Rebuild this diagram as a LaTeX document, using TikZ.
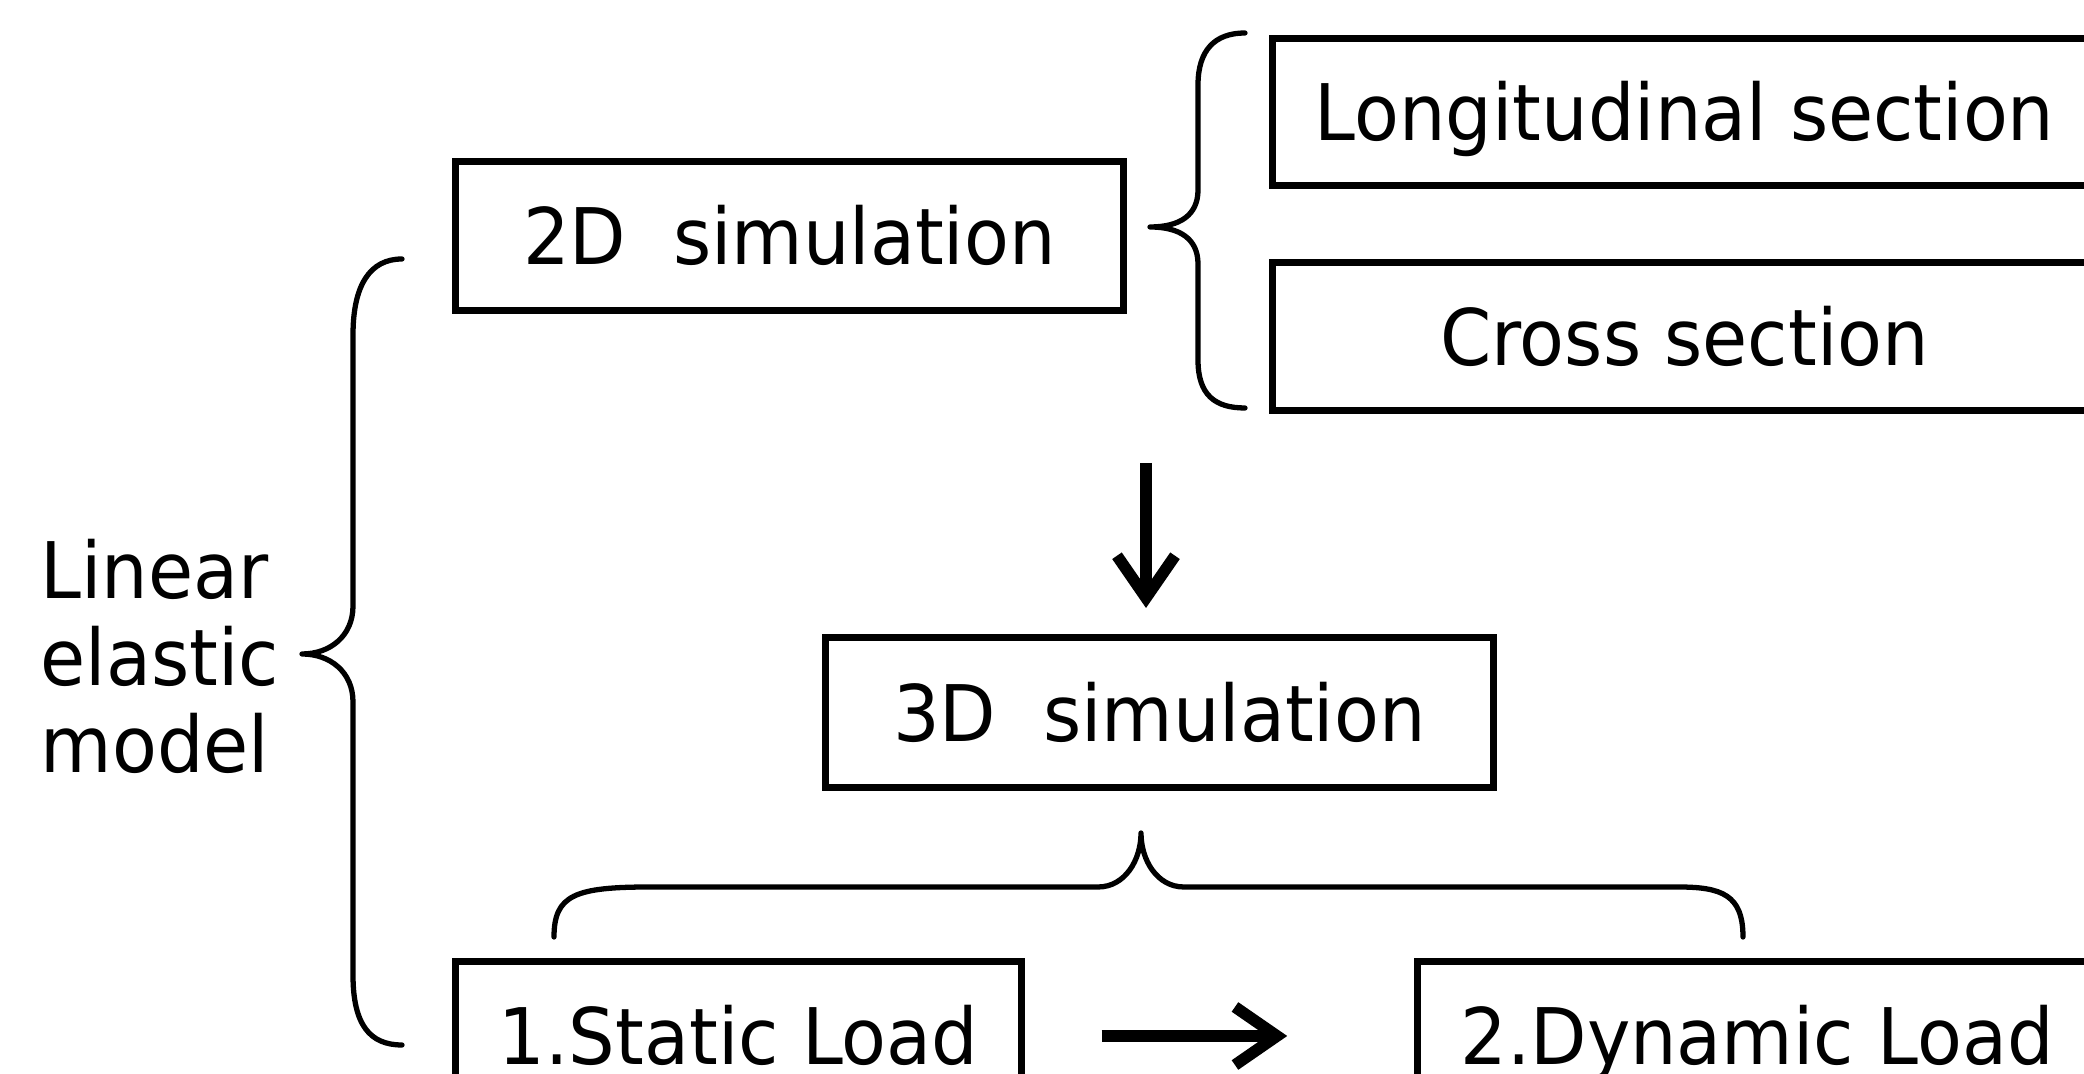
\documentclass[tikz,border=0pt]{standalone}
\usepackage{fontspec}
\setmainfont{DejaVu Sans}[FakeStretch=0.94]
\usetikzlibrary{arrows.meta,calc}
\begin{document}
\begin{tikzpicture}[x=0.01cm,y=-0.01cm,
  txt/.style={font=\fontsize{22.2pt}{24.7pt}\selectfont},
  box/.style={txt,draw,line width=2pt,inner sep=0pt,text height=0.57cm,text depth=0pt},
  brace/.style={line width=1.5pt,line cap=round,line join=round},
  arr/.style={line width=3.3pt,-{Straight Barb[length=0.42cm,width=0.58cm]}}]
\useasboundingbox (0,0) rectangle (2084,1074);
% boxes
\node[box,minimum width=6.67cm,minimum height=1.48cm] (twoD) at (789.5,236) {2D~~simulation};
\node[box,minimum width=8.23cm,minimum height=1.475cm] (longi) at (1684.5,112) {Longitudinal section};
\node[box,minimum width=8.23cm,minimum height=1.48cm] (cross) at (1684.5,336.5) {Cross section};
\node[box,minimum width=6.67cm,minimum height=1.49cm] (threeD) at (1159.5,712.5) {3D~~simulation};
\node[box,minimum width=5.65cm,minimum height=1.48cm] (static) at (738.5,1036) {1.Static Load};
\node[box,minimum width=6.78cm,minimum height=1.48cm] (dynamic) at (1757,1036) {2.Dynamic Load};
% label
\node[txt,align=left,anchor=west,inner sep=0pt] (lem) at (40,656.5) {Linear\\elastic\\model};
% braces
\draw[brace] (402,259) .. controls (370,259) and (353,285) .. (353,335) -- (353,606)
  .. controls (353,636) and (330,654) .. (302,654)
  .. controls (330,654) and (353,672) .. (353,702) -- (353,975)
  .. controls (353,1025) and (370,1045) .. (402,1045);
\draw[brace] (1245,33) .. controls (1215,33) and (1198,50) .. (1198,85) -- (1198,190)
  .. controls (1198,215) and (1180,227) .. (1150,227)
  .. controls (1180,227) and (1198,239) .. (1198,264) -- (1198,360)
  .. controls (1198,395) and (1215,408) .. (1245,408);
\draw[brace] (554,937) .. controls (554,895) and (575,887) .. (650,887) -- (1098,887)
  .. controls (1125,887) and (1141,860) .. (1141,833)
  .. controls (1141,860) and (1157,887) .. (1184,887) -- (1678,887)
  .. controls (1722,887) and (1743,895) .. (1743,937);
% arrows
\coordinate (d1) at (1146,463);
\coordinate (d2) at (1146,608);
\draw[arr] (d1) -- (d2);
\draw[arr,shorten <=0.77cm,shorten >=1.27cm] (static.east) -- (dynamic.west);
\end{tikzpicture}
\end{document}
